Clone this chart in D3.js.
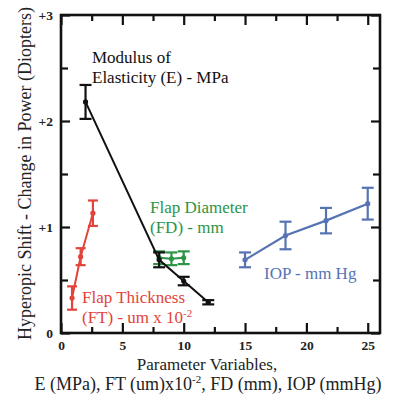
<!DOCTYPE html>
<html>
<head>
<meta charset="utf-8">
<script src="https://cdn.jsdelivr.net/npm/d3@7"></script>
<style>
  body { margin: 0; background: #fff; }
</style>
</head>
<body>
<div id="chart"></div>
<script>
// series: x value, y value, error (+/-)
const modulusX = [2, 8, 10, 12];
const modulusY = [2.18, 0.69, 0.49, 0.29];
const modulusErr = [0.16, 0.07, 0.04, 0.02];

const thicknessX = [0.9, 1.6, 2.6];
const thicknessY = [0.33, 0.72, 1.13];
const thicknessErr = [0.11, 0.08, 0.12];

const diameterX = [8, 9, 10];
const diameterY = [0.71, 0.70, 0.71];
const diameterErr = [0.06, 0.06, 0.06];

const iopX = [15, 18.3, 21.6, 25];
const iopY = [0.69, 0.92, 1.06, 1.22];
const iopErr = [0.07, 0.13, 0.12, 0.15];

const xTicks = [0, 5, 10, 15, 20, 25];
const xMinorTicks = [2.5, 7.5, 12.5, 17.5, 22.5];
const yTicks = [0, 1, 2, 3];
const yTickLabels = ['0', '+1', '+2', '+3'];
const yMinorTicks = [0.5, 1.5, 2.5];

const FONT = '"Liberation Serif"';
const width = 399, height = 404;
const margin = { top: 15, right: 19, bottom: 71, left: 61 };

const svg = d3.select('#chart')
  .append('svg')
  .attr('width', width)
  .attr('height', height);

const x = d3.scaleLinear().domain([0, 26]).range([margin.left, width - margin.right]);
const y = d3.scaleLinear().domain([0, 3]).range([height - margin.bottom, margin.top]);

// axes with inward ticks
function drawAxis(axisFn, scale, transform, ticks, size, labels) {
  const a = axisFn(scale).tickValues(ticks).tickSizeInner(-size).tickSizeOuter(0);
  if (labels) a.tickFormat(labels); else a.tickFormat('');
  const g = svg.append('g').attr('transform', transform).call(a);
  g.select('.domain').remove();
  g.selectAll('line').attr('stroke', '#111').attr('stroke-width', 2.2);
  return g;
}

const x0 = margin.left, x1 = width - margin.right;
const y0 = height - margin.bottom, y1 = margin.top;

const xb = drawAxis(d3.axisBottom, x, `translate(0,${y0})`, xTicks, 10, d => d);
drawAxis(d3.axisBottom, x, `translate(0,${y0})`, xMinorTicks, 6);
drawAxis(d3.axisTop, x, `translate(0,${y1})`, xTicks, 10);
drawAxis(d3.axisTop, x, `translate(0,${y1})`, xMinorTicks, 6);

const yl = drawAxis(d3.axisLeft, y, `translate(${x0},0)`, yTicks, 9, (d, i) => yTickLabels[i]);
drawAxis(d3.axisLeft, y, `translate(${x0},0)`, yMinorTicks, 7);
drawAxis(d3.axisRight, y, `translate(${x1},0)`, yTicks, 9);
drawAxis(d3.axisRight, y, `translate(${x1},0)`, yMinorTicks, 7);

xb.selectAll('text')
  .attr('font-size', 13.5).attr('font-weight', 'bold').attr('fill', '#222')
  .attr('y', 7).attr('dy', '0.71em');
yl.selectAll('text')
  .attr('font-size', 13.5).attr('font-weight', 'bold').attr('fill', '#222')
  .attr('x', -8);

svg.append('rect')
  .attr('x', x0).attr('y', y1)
  .attr('width', x1 - x0).attr('height', y0 - y1)
  .attr('fill', 'none').attr('stroke', '#111').attr('stroke-width', 2.6);

// series
function drawSeries(xs, ys, errs, color, capHalf, lineW) {
  const pts = xs.map((d, i) => ({ x: d, y: ys[i], e: errs[i] }));
  const g = svg.append('g');
  g.append('path')
    .datum(pts)
    .attr('d', d3.line().x(d => x(d.x)).y(d => y(d.y)))
    .attr('fill', 'none')
    .attr('stroke', color)
    .attr('stroke-width', lineW);
  const eb = g.selectAll('.err').data(pts).enter().append('g');
  eb.append('line')
    .attr('x1', d => x(d.x)).attr('x2', d => x(d.x))
    .attr('y1', d => y(d.y - d.e)).attr('y2', d => y(d.y + d.e))
    .attr('stroke', color).attr('stroke-width', 2.2);
  [-1, 1].forEach(s => {
    eb.append('line')
      .attr('x1', d => x(d.x) - capHalf).attr('x2', d => x(d.x) + capHalf)
      .attr('y1', d => y(d.y + s * d.e)).attr('y2', d => y(d.y + s * d.e))
      .attr('stroke', color).attr('stroke-width', 2.2);
  });
  eb.append('circle')
    .attr('cx', d => x(d.x)).attr('cy', d => y(d.y))
    .attr('r', 2.6).attr('fill', color);
}

const black = '#111', red = '#e2433a', green = '#2d9446', blue = '#5674b4';

drawSeries(diameterX, diameterY, diameterErr, green, 6, 2);
drawSeries(modulusX, modulusY, modulusErr, black, 6, 2);
drawSeries(thicknessX, thicknessY, thicknessErr, red, 5, 2);
drawSeries(iopX, iopY, iopErr, blue, 6, 2.2);

// annotations
function label(lines, px, py, color, size) {
  const t = svg.append('text')
    .attr('x', px).attr('y', py)
    .attr('font-size', size).attr('fill', color);
  lines.forEach((l, i) => {
    const ts = t.append('tspan').attr('x', px).attr('dy', i === 0 ? 0 : size * 1.2);
    if (Array.isArray(l)) {
      ts.text(l[0]);
      t.append('tspan').attr('font-size', size * 0.65).attr('dy', -size * 0.4).text(l[1]);
    } else {
      ts.text(l);
    }
  });
}

label(['Modulus of', 'Elasticity (E) - MPa'], 92, 63, black, 17);
label(['Flap Diameter', '(FD) - mm'], 150, 213, green, 17);
label(['IOP - mm Hg'], 264, 279, blue, 17);
label(['Flap Thickness', ['(FT) - um x 10', '-2']], 82, 303, red, 17);

// axis titles
svg.append('text')
  .attr('transform', `translate(31,${(y0 + 8) / 2 + 3}) rotate(-90)`)
  .attr('text-anchor', 'middle')
  .attr('font-size', 18)
  .attr('fill', '#222')
  .text('Hyperopic Shift - Change in Power (Diopters)');

svg.append('text')
  .attr('x', 207).attr('y', 370)
  .attr('text-anchor', 'middle')
  .attr('font-size', 17)
  .attr('fill', '#222')
  .text('Parameter Variables,');

const t2 = svg.append('text')
  .attr('x', 208).attr('y', 390)
  .attr('text-anchor', 'middle')
  .attr('font-size', 18)
  .attr('fill', '#222');
t2.append('tspan').text('E (MPa), FT (um)x10');
t2.append('tspan').attr('font-size', 11).attr('dy', -7).text('-2');
t2.append('tspan').attr('dy', 7).text(', FD (mm), IOP (mmHg)');

svg.selectAll('text').style('font-family', FONT);
</script>
</body>
</html>
